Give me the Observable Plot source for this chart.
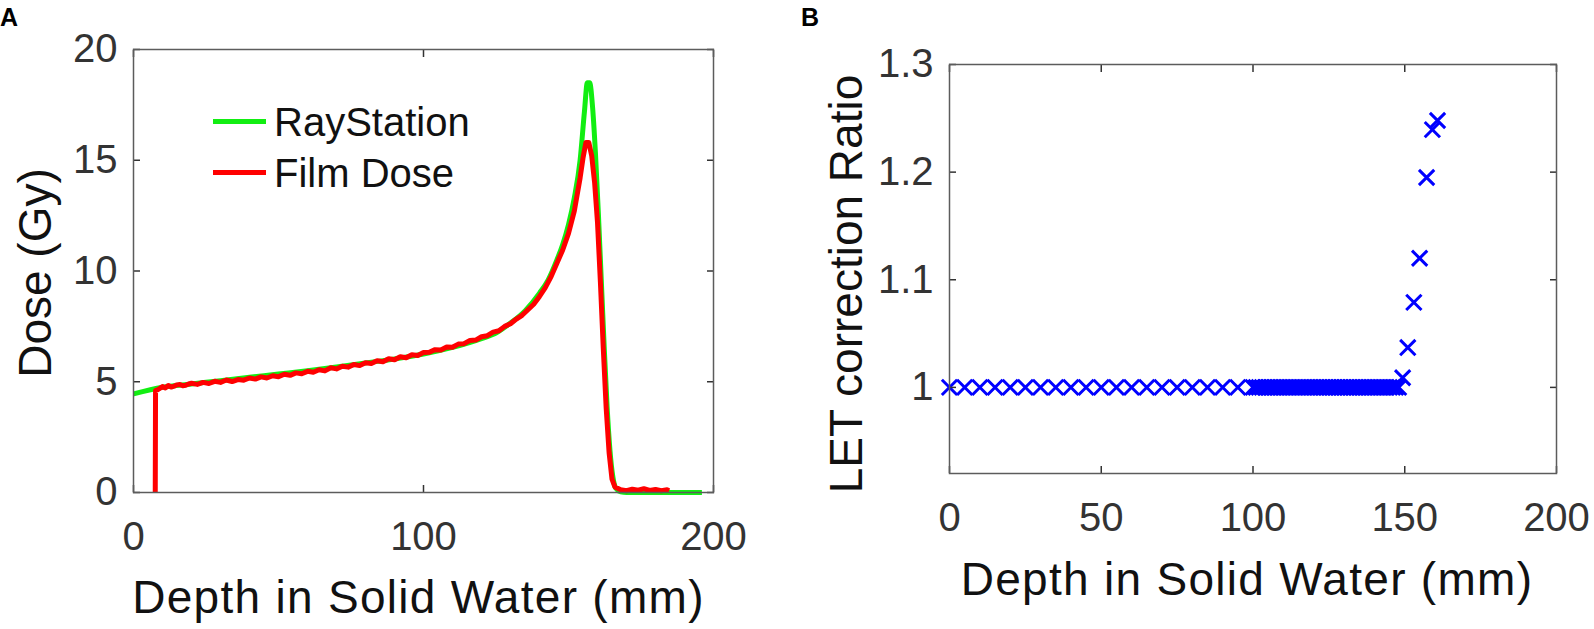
<!DOCTYPE html>
<html>
<head>
<meta charset="utf-8">
<script src="https://cdn.jsdelivr.net/npm/d3@7"></script>
<script src="https://cdn.jsdelivr.net/npm/@observablehq/plot@0.6"></script>
<style>
  html, body { margin: 0; padding: 0; background: #fff; }
  #page { position: relative; width: 1594px; height: 629px; overflow: hidden; font-family: "Liberation Sans", Arial, sans-serif; }
  .panel { position: absolute; top: 0; }
  #overlay { position: absolute; left: 0; top: 0; pointer-events: none; }
</style>
</head>
<body>
<div id="page"></div>
<script>
// ---------- DATA ----------
// Panel A: RayStation calculated depth dose
const rsDepth = [0, 10, 20, 30, 40, 50, 60, 70, 80, 90, 100, 110, 120, 125, 130, 135, 140, 143, 146, 148, 150, 152, 154, 155.5, 156.5, 157.3, 158.3, 159.3, 160.3, 161.3, 162.3, 163.3, 164.3, 165.3, 166.3, 168, 170, 196];
const rsDose  = [4.45, 4.75, 4.9, 5.05, 5.2, 5.35, 5.5, 5.67, 5.85, 6.03, 6.25, 6.55, 6.95, 7.2, 7.65, 8.2, 9.0, 9.6, 10.5, 11.2, 12.1, 13.3, 15.0, 17.2, 18.5, 18.5, 17.4, 15.3, 12.6, 9.6, 6.6, 3.9, 1.9, 0.7, 0.2, 0.03, 0, 0];

// Panel A: measured film dose
const filmDepth = [7.5, 7.6, 8.5, 10, 11, 12, 13, 14, 15, 16, 17, 18, 19, 20, 22, 24, 26, 28, 30, 32, 34, 36, 38, 40, 42, 44, 46, 48, 50, 52, 54, 56, 58, 60, 62, 64, 66, 68, 70, 72, 74, 76, 78, 80, 82, 84, 86, 88, 90, 92, 94, 96, 98, 100, 102, 104, 106, 108, 110, 112, 114, 116, 118, 120, 122, 124, 126, 128, 130, 132, 134, 136, 138, 140, 142, 144, 146, 148, 150, 152, 154, 155, 156, 157, 158, 159, 160, 161, 162, 163, 164, 165, 166, 168, 170, 172, 174, 176, 178, 180, 182, 184, 184.7];
const filmDose  = [0, 4.6, 4.65, 4.78, 4.72, 4.83, 4.76, 4.80, 4.86, 4.88, 4.82, 4.84, 4.90, 4.93, 4.88, 4.97, 4.92, 5.02, 4.97, 5.08, 5.01, 5.10, 5.07, 5.17, 5.12, 5.22, 5.17, 5.27, 5.23, 5.34, 5.29, 5.40, 5.36, 5.47, 5.43, 5.54, 5.49, 5.63, 5.58, 5.70, 5.66, 5.78, 5.73, 5.86, 5.82, 5.95, 5.90, 6.04, 5.99, 6.13, 6.08, 6.22, 6.19, 6.32, 6.33, 6.45, 6.43, 6.57, 6.56, 6.70, 6.72, 6.86, 6.88, 7.03, 7.08, 7.24, 7.30, 7.50, 7.62, 7.83, 8.00, 8.25, 8.50, 8.85, 9.25, 9.75, 10.35, 10.95, 11.7, 12.7, 14.2, 15.1, 15.8, 15.8, 15.2, 14.0, 12.2, 9.5, 6.5, 3.8, 1.8, 0.6, 0.25, 0.12, 0.08, 0.15, 0.1, 0.17, 0.09, 0.14, 0.08, 0.12, 0.08];

// Panel B: LET correction ratio
const letDepth = [0, 5, 10, 15, 20, 25, 30, 35, 40, 45, 50, 55, 60, 65, 70, 75, 80, 85, 90, 95, 100,
  101, 102, 103, 104, 105, 106, 107, 108, 109, 110, 111, 112, 113, 114, 115, 116, 117, 118, 119, 120,
  121, 122, 123, 124, 125, 126, 127, 128, 129, 130, 131, 132, 133, 134, 135, 136, 137, 138, 139, 140,
  141, 142, 143, 144, 145, 146, 147, 148,
  149.3, 151, 153, 154.9, 157.2, 159.1, 160.8];
const letRatio = [1, 1, 1, 1, 1, 1, 1, 1, 1, 1, 1, 1, 1, 1, 1, 1, 1, 1, 1, 1, 1,
  1, 1, 1, 1, 1, 1, 1, 1, 1, 1, 1, 1, 1, 1, 1, 1, 1, 1, 1, 1,
  1, 1, 1, 1, 1, 1, 1, 1, 1, 1, 1, 1, 1, 1, 1, 1, 1, 1, 1, 1,
  1, 1, 1, 1, 1, 1, 1, 1,
  1.009, 1.037, 1.079, 1.12, 1.195, 1.2395, 1.248];

// Ticks & labels
const doseTicksX = [0, 100, 200];
const doseTicksY = [0, 5, 10, 15, 20];
const letTicksX = [0, 50, 100, 150, 200];
const letTicksY = [1, 1.1, 1.2, 1.3];
const xLabel = "Depth in Solid Water (mm)";
const doseLabel = "Dose (Gy)";
const letLabel = "LET correction Ratio";
const seriesNames = ["RayStation", "Film Dose"];
const seriesColors = ["#12ee12", "#ff0000"];
const markerColor = "#0000ff";
const panelTags = ["A", "B"];

// ---------- BUILD ----------
const rs = rsDepth.map((d, i) => ({depth: d, dose: rsDose[i]}));
const film = filmDepth.map((d, i) => ({depth: d, dose: filmDose[i]}));
const letData = letDepth.map((d, i) => ({depth: d, ratio: letRatio[i]}));

const page = document.getElementById("page");
const axisColor = "#333";
const tickFont = 40;
const labelFont = 46;
const blank = () => "";
const fontFam = "'Liberation Sans', Arial, sans-serif";

function boxAxes(ticksX, ticksY, fmtY) {
  return [
    Plot.axisX({ticks: ticksX, anchor: "bottom", tickSize: -7, tickPadding: 36, fontSize: tickFont, color: axisColor, strokeWidth: 1.5, label: null}),
    Plot.axisX({ticks: ticksX, anchor: "top", tickSize: -7, tickFormat: blank, color: axisColor, strokeWidth: 1.5, label: null}),
    Plot.axisY({ticks: ticksY, anchor: "left", tickSize: -7, tickPadding: 23, fontSize: tickFont, color: axisColor, strokeWidth: 1.5, label: null, tickFormat: fmtY}),
    Plot.axisY({ticks: ticksY, anchor: "right", tickSize: -7, tickFormat: blank, color: axisColor, strokeWidth: 1.5, label: null}),
    Plot.frame({stroke: "#5c5c5c", strokeWidth: 1.5})
  ];
}

// Panel A
const plotA = Plot.plot({
  width: 790, height: 629,
  marginLeft: 133, marginRight: 77, marginTop: 49, marginBottom: 137,
  style: {fontFamily: fontFam, background: "transparent", color: "#111"},
  x: {domain: [0, 200]},
  y: {domain: [0, 20]},
  marks: [
    Plot.line(rs, {x: "depth", y: "dose", stroke: seriesColors[0], strokeWidth: 5, curve: "monotone-x", strokeLinejoin: "round", strokeLinecap: "butt"}),
    Plot.line(film, {x: "depth", y: "dose", stroke: seriesColors[1], strokeWidth: 5, curve: "linear", strokeLinejoin: "round", strokeLinecap: "butt"}),
    ...boxAxes(doseTicksX, doseTicksY, d => String(d)),
    Plot.text([xLabel], {text: d => d, frameAnchor: "bottom", textAnchor: "middle", lineAnchor: "bottom", dy: 120, dx: -5, fontSize: labelFont, fill: "#111"}),
    Plot.text([doseLabel], {text: d => d, frameAnchor: "left", textAnchor: "middle", rotate: -90, dx: -97, dy: 2, fontSize: labelFont, fill: "#111"})
  ]
});
plotA.classList.add("panel");
plotA.style.left = "0px";
page.appendChild(plotA);

// Panel B
const plotB = Plot.plot({
  width: 794, height: 629,
  marginLeft: 149, marginRight: 38, marginTop: 64, marginBottom: 156,
  style: {fontFamily: fontFam, background: "transparent", color: "#111"},
  x: {domain: [0, 200]},
  y: {domain: [0.92, 1.3]},
  marks: [
    Plot.dot(letData, {x: "depth", y: "ratio", symbol: "times", r: 7, stroke: markerColor, strokeWidth: 3}),
    ...boxAxes(letTicksX, letTicksY, d => String(d)),
    Plot.text([xLabel], {text: d => d, frameAnchor: "bottom", textAnchor: "middle", lineAnchor: "bottom", dy: 121, dx: -6, fontSize: labelFont, fill: "#111"}),
    Plot.text([letLabel], {text: d => d, frameAnchor: "left", textAnchor: "middle", rotate: -90, dx: -102, dy: 15, fontSize: labelFont, fill: "#111"})
  ]
});
plotB.classList.add("panel");
plotB.style.left = "800px";
page.appendChild(plotB);

// slightly wider letter spacing on the depth axis titles (MATLAB rendering)
[plotA, plotB].forEach(p => {
  d3.select(p).selectAll("text").filter(function () { return this.textContent === xLabel; })
    .style("letter-spacing", "1.3px");
});

// Overlay: panel tags and legend of panel A
const ov = d3.select(page).append("svg").attr("id", "overlay")
  .attr("width", 1594).attr("height", 629)
  .style("font-family", fontFam);

ov.selectAll("text.tag").data(panelTags).join("text")
  .attr("class", "tag")
  .attr("x", (d, i) => i === 0 ? 0 : 801)
  .attr("y", 26)
  .attr("font-size", 25).attr("font-weight", "bold").attr("fill", "#000")
  .text(d => d);

const leg = ov.append("g").attr("transform", "translate(213,121.5)");
const rows = leg.selectAll("g").data(seriesNames).join("g")
  .attr("transform", (d, i) => `translate(0,${i * 51})`);
rows.append("line").attr("x1", 0).attr("x2", 53).attr("y1", 0).attr("y2", 0)
  .attr("stroke", (d, i) => seriesColors[i]).attr("stroke-width", 5);
rows.append("text").attr("x", 61).attr("y", 14.5)
  .attr("font-size", 40).attr("fill", "#111").text(d => d);
</script>
</body>
</html>
